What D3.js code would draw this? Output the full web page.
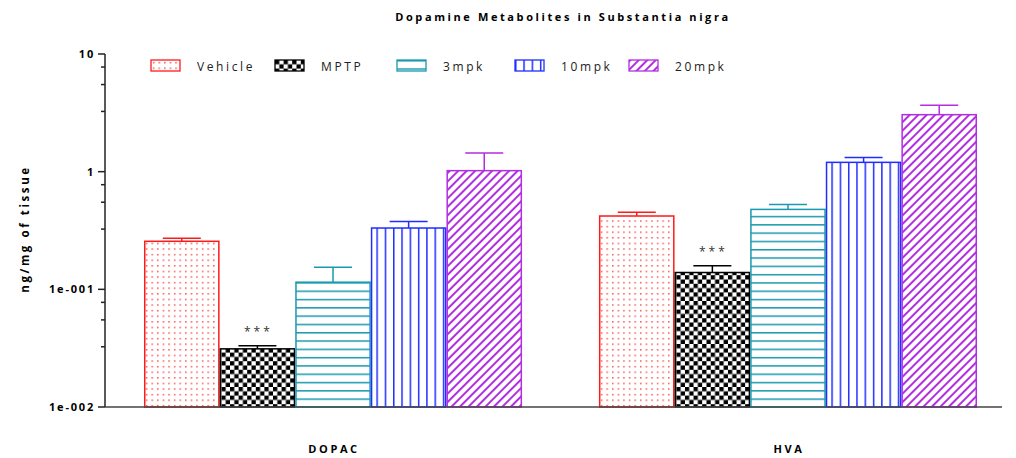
<!DOCTYPE html>
<html>
<head>
<meta charset="utf-8">
<script src="https://cdn.jsdelivr.net/npm/d3@7"></script>
<style>
  body { margin: 0; background: #fff; }
  svg { display: block; font-family: "Open Sans", sans-serif; }
</style>
</head>
<body>
<div id="wrapper"></div>
<script>
const width = 1016
const height = 458

// data
const groups = ["DOPAC", "HVA"]
const series = ["Vehicle", "MPTP", "3mpk", "10mpk", "20mpk"]
const means = {
  DOPAC: [0.256, 0.0312, 0.115, 0.332, 1.02],
  HVA:   [0.42, 0.139, 0.478, 1.2, 3.05]
}
const errors = {
  DOPAC: [0.016, 0.002, 0.039, 0.046, 0.42],
  HVA:   [0.031, 0.02, 0.049, 0.12, 0.61]
}
const signif = { DOPAC: [null, "***", null, null, null], HVA: [null, "***", null, null, null] }
const majorTicks = [0.01, 0.1, 1, 10]
const majorLabels = ["1e-002", "1e-001", "1", "10"]
const minorSteps = [3.25, 5.5, 7.75]

const colors = ["#ff1a1a", "#000000", "#1a9aae", "#1f2dff", "#b22ee0"]

const margin = { left: 105, right: 0, top: 54, bottom: 51 }

const svg = d3.select("#wrapper").append("svg")
  .attr("width", width)
  .attr("height", height)

// patterns
const defs = svg.append("defs")

const pDots = defs.append("pattern").attr("id", "p0")
  .attr("patternUnits", "userSpaceOnUse").attr("width", 5.6).attr("height", 5.6)
pDots.append("rect").attr("width", 5.6).attr("height", 5.6).attr("fill", "#fff")
pDots.append("rect").attr("x", 2).attr("y", 2).attr("width", 1.3).attr("height", 1.3).attr("fill", colors[0])

const pCheck = defs.append("pattern").attr("id", "p1")
  .attr("patternUnits", "userSpaceOnUse").attr("width", 8.6).attr("height", 8.6)
pCheck.append("rect").attr("width", 8.6).attr("height", 8.6).attr("fill", "#fff")
pCheck.append("rect").attr("width", 4.3).attr("height", 4.3).attr("fill", "#000")
pCheck.append("rect").attr("x", 4.3).attr("y", 4.3).attr("width", 4.3).attr("height", 4.3).attr("fill", "#000")

const pHoriz = defs.append("pattern").attr("id", "p2")
  .attr("patternUnits", "userSpaceOnUse").attr("width", 8).attr("height", 8.3)
pHoriz.append("rect").attr("width", 8).attr("height", 8.3).attr("fill", "#fff")
pHoriz.append("rect").attr("y", 0).attr("width", 8).attr("height", 1.5).attr("fill", colors[2])

const pVert = defs.append("pattern").attr("id", "p3")
  .attr("patternUnits", "userSpaceOnUse").attr("width", 8.3).attr("height", 8)
pVert.append("rect").attr("width", 8.3).attr("height", 8).attr("fill", "#fff")
pVert.append("rect").attr("x", 0).attr("width", 1.5).attr("height", 8).attr("fill", colors[3])

const pDiag = defs.append("pattern").attr("id", "p4")
  .attr("patternUnits", "userSpaceOnUse").attr("width", 6).attr("height", 6)
  .attr("patternTransform", "rotate(45)")
pDiag.append("rect").attr("width", 6).attr("height", 6).attr("fill", "#fff")
pDiag.append("rect").attr("x", 0).attr("width", 2).attr("height", 6).attr("fill", colors[4])

// scales
const x0 = d3.scaleBand()
  .domain(groups)
  .range([margin.left, width - margin.right])
  .paddingInner(0.169)
  .paddingOuter(0.0857)

const x1 = d3.scaleBand()
  .domain(series)
  .range([0, x0.bandwidth()])

const y = d3.scaleLog()
  .domain([0.01, 10])
  .range([height - margin.bottom, margin.top])

// title
svg.append("text")
  .attr("x", 563).attr("y", 21)
  .attr("text-anchor", "middle")
  .style("font-size", "11px").style("font-weight", "bold").style("letter-spacing", "2.6px")
  .text("Dopamine Metabolites in Substantia nigra")

// y axis
const minorTicks = majorTicks.slice(0, -1).flatMap(d => minorSteps.map(m => d * m))
const yAxis = svg.append("g").attr("transform", `translate(${margin.left},0)`)
yAxis.append("line")
  .attr("y1", y(0.01)).attr("y2", y(10))
  .attr("stroke", "#222").attr("stroke-width", 1.5)
yAxis.selectAll(".major").data(majorTicks).join("line")
  .attr("x1", -7).attr("x2", 0)
  .attr("y1", d => y(d)).attr("y2", d => y(d))
  .attr("stroke", "#222").attr("stroke-width", 1.5)
yAxis.selectAll(".minor").data(minorTicks).join("line")
  .attr("x1", -4).attr("x2", 0)
  .attr("y1", d => y(d)).attr("y2", d => y(d))
  .attr("stroke", "#222").attr("stroke-width", 1.5)
yAxis.selectAll("text").data(majorTicks).join("text")
  .attr("x", -10).attr("y", d => y(d)).attr("dy", "0.35em")
  .attr("text-anchor", "end")
  .style("font-size", "11px").style("font-weight", "bold").style("letter-spacing", "1.8px")
  .text((d, i) => majorLabels[i])

svg.append("text")
  .attr("transform", `translate(29,${229}) rotate(-90)`)
  .attr("text-anchor", "middle")
  .style("font-size", "11.5px").style("font-weight", "bold").style("letter-spacing", "2.6px")
  .text("ng/mg of tissue")

// bars
const g = svg.append("g")
  .selectAll("g")
  .data(groups)
  .join("g")
  .attr("transform", d => `translate(${x0(d)},0)`)

const cells = g.selectAll("g")
  .data(grp => series.map((s, i) => ({ grp, s, i, v: means[grp][i], e: errors[grp][i], star: signif[grp][i] })))
  .join("g")

cells.append("rect")
  .attr("x", d => x1(d.s) + 0.75)
  .attr("width", x1.bandwidth() - 1.5)
  .attr("y", d => y(d.v))
  .attr("height", d => y(0.01) - y(d.v))
  .attr("fill", d => `url(#p${d.i})`)
  .attr("stroke", d => colors[d.i])
  .attr("stroke-width", 1.5)

const cw = 38
cells.append("path")
  .attr("d", d => {
    const cx = x1(d.s) + x1.bandwidth() / 2
    const yt = y(d.v + d.e)
    return `M${cx},${y(d.v)}V${yt}M${cx - cw / 2},${yt}H${cx + cw / 2}`
  })
  .attr("fill", "none")
  .attr("stroke", d => colors[d.i])
  .attr("stroke-width", 1.5)

cells.filter(d => d.star).append("text")
  .attr("x", d => x1(d.s) + x1.bandwidth() / 2 + 1)
  .attr("y", d => y(d.v + d.e) - 10)
  .attr("text-anchor", "middle")
  .style("font-size", "12px").style("letter-spacing", "3px").attr("fill", "#333")
  .text(d => d.star)

// x axis
svg.append("line")
  .attr("x1", margin.left).attr("x2", 1002)
  .attr("y1", y(0.01)).attr("y2", y(0.01))
  .attr("stroke", "#444").attr("stroke-width", 1.5)

svg.selectAll(".xlab").data(groups).join("text")
  .attr("x", d => x0(d) + x0.bandwidth() / 2 + 1)
  .attr("y", 453)
  .attr("text-anchor", "middle")
  .style("font-size", "11px").style("font-weight", "bold").style("letter-spacing", "2.6px")
  .text(d => d)

// legend
const legendX = [151, 275, 397, 515, 629]
const legend = svg.append("g").selectAll("g")
  .data(series)
  .join("g")
  .attr("transform", (d, i) => `translate(${legendX[i]},60)`)
legend.append("rect")
  .attr("width", 29).attr("height", 11)
  .attr("fill", (d, i) => `url(#p${i})`)
  .attr("stroke", (d, i) => colors[i]).attr("stroke-width", 1.3)
legend.append("text")
  .attr("x", 46)
  .attr("y", 6).attr("dy", "0.38em")
  .style("font-size", "12px").style("letter-spacing", "2.6px").attr("fill", "#222")
  .text(d => d)
</script>
</body>
</html>
